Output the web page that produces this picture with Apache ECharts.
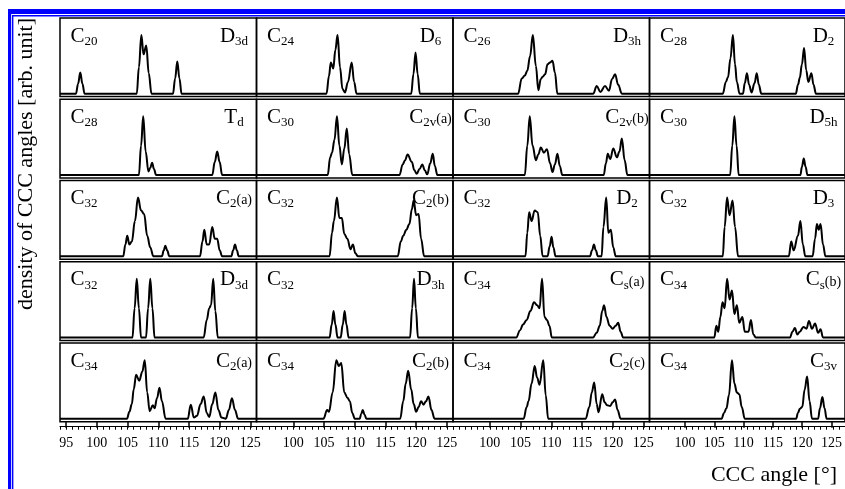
<!DOCTYPE html>
<html><head><meta charset="utf-8">
<script src="https://cdn.jsdelivr.net/npm/echarts@6/dist/echarts.min.js"></script>
<style>html,body{margin:0;padding:0;background:#fff;}#c{width:845px;height:489px;}</style>
</head><body><div id="c"></div>
<script>
// ---------------- data ----------------
const angleMin = 94, angleMax = 126;
const majorTicks = [95, 100, 105, 110, 115, 120, 125];
const xTitle = 'CCC angle [°]';
const yTitle = 'density of CCC angles [arb. unit]';
const clusterLabels = [
  ['C','20'],['C','24'],['C','26'],['C','28'],
  ['C','28'],['C','30'],['C','30'],['C','30'],
  ['C','32'],['C','32'],['C','32'],['C','32'],
  ['C','32'],['C','32'],['C','34'],['C','34'],
  ['C','34'],['C','34'],['C','34'],['C','34']
];
const symmetryLabels = [
  ['D','3d',''],['D','6',''],['D','3h',''],['D','2',''],
  ['T','d',''],['C','2v','(a)'],['C','2v','(b)'],['D','5h',''],
  ['C','2','(a)'],['C','2','(b)'],['D','2',''],['D','3',''],
  ['D','3d',''],['D','3h',''],['C','s','(a)'],['C','s','(b)'],
  ['C','2','(a)'],['C','2','(b)'],['C','2','(c)'],['C','3v','']
];
// density curves: [angle, relative density]
const C20_D3d = [[94,0],[96.6,0],[96.95,0.17],[97.3,0.36],[97.65,0.17],[98.0,0],[106.5,0],[106.85,0.45],[107.25,1.0],[107.6,0.67],[108.05,0.82],[108.45,0.35],[108.9,0],[112.4,0],[112.75,0.26],[113.1,0.55],[113.45,0.26],[113.8,0],[126,0]];
const C24_D6 = [[94,0],[105.4,0],[105.8,0.3],[106.1,0.53],[106.5,0.43],[106.85,0.75],[107.2,1.0],[107.6,0.45],[108.0,0.08],[108.4,0.02],[108.9,0.2],[109.5,0.53],[109.9,0.2],[110.3,0],[119.2,0],[119.55,0.33],[119.9,0.7],[120.25,0.33],[120.6,0],[126,0]];
const C26_D3h = [[94,0],[104.6,0],[105.2,0.26],[105.7,0.31],[106.1,0.39],[106.55,0.64],[107.0,1.0],[107.5,0.47],[107.9,0.06],[108.3,0.25],[108.6,0.29],[109.0,0.33],[109.4,0.5],[109.8,0.53],[110.2,0.56],[110.6,0.36],[111.0,0],[116.85,0],[117.4,0.13],[118.0,0.03],[118.75,0.13],[119.4,0.05],[119.9,0.25],[120.4,0.33],[120.9,0.15],[121.5,0],[126,0]];
const C28_D2 = [[94,0],[106.0,0],[106.5,0.2],[106.85,0.28],[107.25,0.6],[107.65,1.0],[108.0,0.5],[108.3,0.2],[108.75,0],[109.3,0],[109.6,0.18],[109.95,0.35],[110.3,0.15],[110.7,0.02],[111.2,0.18],[111.55,0.35],[111.9,0.15],[112.3,0],[117.95,0],[118.3,0.15],[118.6,0.27],[118.95,0.5],[119.3,0.78],[119.65,0.4],[120.0,0.2],[120.5,0.35],[120.85,0.15],[121.25,0],[126,0]];
const C28_Td = [[94,0],[106.85,0],[107.2,0.5],[107.55,1.0],[107.95,0.4],[108.4,0.06],[108.7,0.12],[109.0,0.21],[109.3,0.1],[109.65,0],[118.8,0],[119.2,0.22],[119.6,0.4],[120.0,0.22],[120.4,0],[126,0]];
const C30_C2va = [[94,0],[105.6,0],[106.0,0.3],[106.3,0.38],[106.7,0.6],[107.1,1.0],[107.5,0.5],[107.9,0.18],[108.3,0.45],[108.7,0.79],[109.1,0.35],[109.6,0],[117.3,0],[117.8,0.18],[118.2,0.25],[118.6,0.35],[119.3,0.22],[119.7,0.08],[120.1,0.02],[120.55,0.1],[121.0,0.18],[121.4,0.08],[121.8,0.01],[122.3,0.2],[122.7,0.36],[123.05,0.15],[123.45,0],[126,0]];
const C30_C2vb = [[94,0],[105.7,0],[106.1,0.5],[106.5,1.0],[106.95,0.5],[107.5,0.25],[107.9,0.35],[108.3,0.47],[108.8,0.38],[109.3,0.44],[109.8,0.2],[110.2,0.05],[110.6,0.18],[111.0,0.36],[111.4,0.15],[111.8,0],[118.55,0],[118.9,0.2],[119.2,0.36],[119.6,0.27],[120.1,0.45],[120.7,0.3],[121.1,0.4],[121.5,0.62],[121.95,0.25],[122.4,0],[126,0]];
const C30_D5h = [[94,0],[107.2,0],[107.55,0.5],[107.9,1.0],[108.25,0.5],[108.6,0],[118.7,0],[118.95,0.14],[119.25,0.28],[119.55,0.14],[119.85,0],[126,0]];
const C32_C2a = [[94,0],[104.3,0],[104.65,0.2],[104.95,0.35],[105.3,0.2],[105.7,0.25],[106.2,0.6],[106.7,1.0],[107.2,0.78],[107.7,0.72],[108.2,0.35],[108.7,0.15],[109.2,0],[110.6,0],[110.9,0.1],[111.15,0.18],[111.45,0.1],[111.8,0],[116.8,0],[117.2,0.25],[117.5,0.45],[117.9,0.2],[118.3,0.2],[118.8,0.5],[119.2,0.3],[119.6,0.3],[120.0,0.1],[120.4,0],[121.9,0],[122.2,0.1],[122.5,0.2],[122.8,0.1],[123.1,0],[126,0]];
const C32_C2b = [[94,0],[105.9,0],[106.3,0.4],[106.6,0.6],[107.1,1.0],[107.5,0.65],[107.9,0.65],[108.3,0.38],[108.8,0.3],[109.3,0.12],[109.7,0.2],[110.1,0.05],[110.5,0],[117.0,0],[117.5,0.25],[117.9,0.35],[118.4,0.45],[118.9,0.55],[119.3,0.8],[119.6,0.95],[120.0,0.7],[120.4,0.72],[120.8,0.3],[121.3,0],[126,0]];
const C32_D2 = [[94,0],[105.8,0],[106.1,0.4],[106.4,0.75],[106.8,0.6],[107.3,0.78],[107.8,0.75],[108.2,0.35],[108.6,0],[109.4,0],[109.75,0.17],[110.05,0.33],[110.35,0.15],[110.7,0],[116.3,0],[116.65,0.1],[116.95,0.2],[117.25,0.1],[117.6,0],[118.2,0],[118.5,0.5],[118.95,1.0],[119.3,0.4],[119.7,0.45],[120.1,0.15],[120.5,0],[126,0]];
const C32_D3 = [[94,0],[106.0,0],[106.3,0.5],[106.7,1.0],[107.1,0.7],[107.6,0.95],[108.0,0.5],[108.5,0],[116.8,0],[117.2,0.25],[117.6,0.1],[118.3,0.35],[118.7,0.6],[119.1,0.2],[119.5,0],[120.7,0],[121.1,0.3],[121.4,0.55],[121.7,0.45],[122.0,0.55],[122.4,0.2],[122.8,0],[126,0]];
const C32_D3d = [[94,0],[105.8,0],[106.15,0.5],[106.5,1.0],[106.85,0.5],[107.2,0],[108.0,0],[108.35,0.5],[108.7,1.0],[109.05,0.5],[109.4,0],[117.4,0],[117.9,0.3],[118.3,0.5],[118.6,0.55],[118.95,1.0],[119.3,0.45],[119.7,0],[126,0]];
const C32_D3h = [[94,0],[105.9,0],[106.25,0.22],[106.55,0.45],[106.85,0.22],[107.2,0],[107.7,0],[108.05,0.22],[108.35,0.45],[108.65,0.22],[109.0,0],[119.0,0],[119.35,0.5],[119.65,1.0],[119.95,0.5],[120.3,0],[126,0]];
const C34_Csa = [[94,0],[104.3,0],[104.9,0.12],[105.4,0.22],[106.0,0.3],[106.6,0.45],[107.2,0.6],[107.7,0.55],[108.1,0.5],[108.5,1.0],[108.9,0.35],[109.3,0.3],[109.7,0.2],[110.1,0],[116.8,0],[117.4,0.08],[117.9,0.2],[118.3,0.45],[118.6,0.55],[119.0,0.35],[119.5,0.2],[120.0,0.15],[120.5,0.2],[120.9,0.25],[121.3,0.1],[121.7,0],[126,0]];
const C34_Csb = [[94,0],[104.6,0],[104.95,0.2],[105.25,0.1],[105.6,0.35],[105.95,0.6],[106.3,0.5],[106.7,1.0],[107.1,0.65],[107.5,0.8],[107.9,0.4],[108.3,0.55],[108.7,0.25],[109.2,0.35],[109.6,0.1],[110.2,0.1],[110.6,0.3],[111.0,0.05],[111.4,0],[117.0,0],[117.4,0.1],[117.8,0.16],[118.2,0.05],[118.6,0.1],[119.2,0.18],[119.7,0.15],[120.1,0.28],[120.6,0.15],[121.1,0.24],[121.6,0.08],[122.0,0.14],[122.4,0],[126,0]];
const C34_C2a = [[94,0],[104.9,0],[105.3,0.12],[105.7,0.25],[106.0,0.5],[106.4,0.75],[106.9,0.65],[107.4,0.8],[107.8,1.0],[108.2,0.45],[108.6,0.13],[109.1,0.23],[109.4,0.18],[109.8,0.35],[110.2,0.53],[110.6,0.3],[111.2,0],[114.8,0],[115.3,0.24],[115.8,0.02],[116.3,0.05],[116.9,0.25],[117.4,0.38],[117.9,0.1],[118.3,0.03],[118.8,0.25],[119.3,0.45],[119.8,0.15],[120.3,0.02],[121.0,0],[121.5,0.15],[122.0,0.35],[122.5,0.15],[123.0,0],[126,0]];
const C34_C2b = [[94,0],[104.9,0],[105.5,0.15],[105.8,0.12],[106.4,0.45],[107.0,1.0],[107.4,0.9],[107.8,0.95],[108.3,0.45],[108.8,0.36],[109.2,0.3],[109.6,0.1],[110.0,0],[110.8,0],[111.05,0.08],[111.3,0.15],[111.6,0.07],[111.9,0],[117.4,0],[117.9,0.3],[118.3,0.6],[118.7,0.82],[119.2,0.5],[119.6,0.25],[120.0,0.12],[120.4,0.2],[120.8,0.3],[121.2,0.24],[121.6,0.3],[122.0,0.38],[122.5,0.15],[123.0,0],[126,0]];
const C34_C2c = [[94,0],[105.5,0],[106.0,0.2],[106.3,0.3],[106.8,0.6],[107.3,0.9],[107.7,0.7],[108.1,0.58],[108.7,1.0],[109.1,0.4],[109.5,0],[115.6,0],[116.2,0.2],[116.6,0.45],[117.0,0.62],[117.4,0.25],[117.7,0.11],[118.3,0.42],[118.7,0.28],[119.1,0.23],[119.6,0.22],[120.0,0.28],[120.4,0.33],[120.8,0.15],[121.3,0],[126,0]];
const C34_C3v = [[94,0],[105.8,0],[106.2,0.1],[106.6,0.18],[107.0,0.4],[107.5,1.0],[107.9,0.6],[108.3,0.45],[108.7,0.42],[109.1,0.2],[109.6,0],[118.0,0],[118.3,0.1],[118.6,0.17],[119.0,0.2],[119.4,0.5],[119.8,0.72],[120.2,0.3],[120.6,0],[121.6,0],[121.9,0.18],[122.3,0.37],[122.65,0.18],[123.0,0],[126,0]];
const panels = [
  C20_D3d, C24_D6, C26_D3h, C28_D2,
  C28_Td, C30_C2va, C30_C2vb, C30_D5h,
  C32_C2a, C32_C2b, C32_D2, C32_D3,
  C32_D3d, C32_D3h, C34_Csa, C34_Csb,
  C34_C2a, C34_C2b, C34_C2c, C34_C3v
];
// ---------------- layout / style ----------------
const SERIF = '"Liberation Serif", "Times New Roman", serif';
const L0 = 60, CW = 196.5, T0 = 18, RP = 81.28, RH = 78.6;
const NC = 4, NR = 5;
const FS_MAIN = 21, FS_SUB = 13, FS_SUF = 14;
const grids = [], xAxes = [], yAxes = [], series = [], graphics = [];
const mctx = document.createElement('canvas').getContext('2d');
function textW(t, size) { mctx.font = size + 'px "Liberation Serif"'; return mctx.measureText(t).width; }
function txt(x, y, t, size) {
  graphics.push({type: 'text', x: x, y: y, z: 10, silent: true,
    style: {text: t, font: size + 'px ' + SERIF, fill: '#000', align: 'left', verticalAlign: 'middle'}});
}
function label(x, top, parts, centered) {
  const w0 = textW(parts[0], FS_MAIN), w1 = textW(parts[1], FS_SUB), w2 = parts[2] ? textW(parts[2], FS_SUF) : 0;
  const x0 = centered ? x - (w0 + w1 + w2) / 2 : x;
  txt(x0, top + 18, parts[0], FS_MAIN);
  txt(x0 + w0, top + 23.5, parts[1], FS_SUB);
  if (parts[2]) txt(x0 + w0 + w1, top + 20, parts[2], FS_SUF);
}
const blue = '#0000ff';
graphics.push({type:'rect', shape:{x:8, y:9, width:837, height:5}, style:{fill:blue}, silent:true});
graphics.push({type:'rect', shape:{x:8, y:9, width:3.2, height:480}, style:{fill:blue}, silent:true});
graphics.push({type:'rect', shape:{x:12, y:15, width:833, height:1.4}, style:{fill:blue}, silent:true});
graphics.push({type:'rect', shape:{x:12, y:15, width:1.4, height:474}, style:{fill:blue}, silent:true});

panels.forEach((pts, i) => {
  const r = Math.floor(i / NC), c = i % NC;
  const left = L0 + c * CW, top = T0 + r * RP;
  const isBottom = r === NR - 1;
  grids.push({left: left, top: top, width: CW, height: RH, show: true, borderColor: '#000', borderWidth: 1.5, backgroundColor: 'transparent'});
  xAxes.push({type: 'value', gridIndex: i, min: angleMin, max: angleMax, interval: 1, show: isBottom, position: 'bottom', offset: 5,
    axisLine: {show: true, onZero: false, lineStyle: {color: '#000', width: 1}},
    axisTick: {show: true, length: 3, lineStyle: {color: '#000', width: 1}},
    axisLabel: {show: false}, splitLine: {show: false}});
  yAxes.push({type: 'value', gridIndex: i, min: -0.05, max: 1.29, show: false, splitLine: {show: false}});
  series.push({type: 'line', xAxisIndex: i, yAxisIndex: i, data: pts, showSymbol: false, smooth: 0.4, smoothMonotone: 'x',
    lineStyle: {color: '#000', width: 2}, silent: true, animation: false});
  label(left + 10.5, top, clusterLabels[i], false);
  label(left + 174, top, symmetryLabels[i], true);
});
// major ticks + labels for bottom row
for (let c = 0; c < NC; c++) {
  const gi = grids.length;
  grids.push({left: L0 + c * CW + CW / 32, top: T0 + (NR - 1) * RP, width: CW * 30 / 32, height: RH, show: false});
  xAxes.push({type: 'value', gridIndex: gi, min: majorTicks[0], max: majorTicks[majorTicks.length - 1], interval: 5, position: 'bottom', offset: 5,
    axisLine: {show: false}, axisTick: {show: true, length: 6, lineStyle: {color: '#000', width: 1.5}},
    axisLabel: {show: true, margin: 10, fontFamily: SERIF, fontSize: 14, color: '#000', showMinLabel: c === 0, showMaxLabel: true},
    splitLine: {show: false}});
  yAxes.push({type: 'value', gridIndex: gi, show: false, min: 0, max: 1});
}
graphics.push({type: 'text', x: 837, y: 475, silent: true,
  style: {text: xTitle, font: '22px ' + SERIF, fill: '#000', align: 'right', verticalAlign: 'middle'}});
graphics.push({type: 'text', x: 26, y: 164, rotation: Math.PI / 2, silent: true,
  style: {text: yTitle, font: '22px ' + SERIF, fill: '#000', align: 'center', verticalAlign: 'middle'}});

const chart = echarts.init(document.getElementById('c'), null, {renderer: 'canvas'});
chart.setOption({animation: false, backgroundColor: '#fff', grid: grids, xAxis: xAxes, yAxis: yAxes, series: series, graphic: graphics});
</script></body></html>
